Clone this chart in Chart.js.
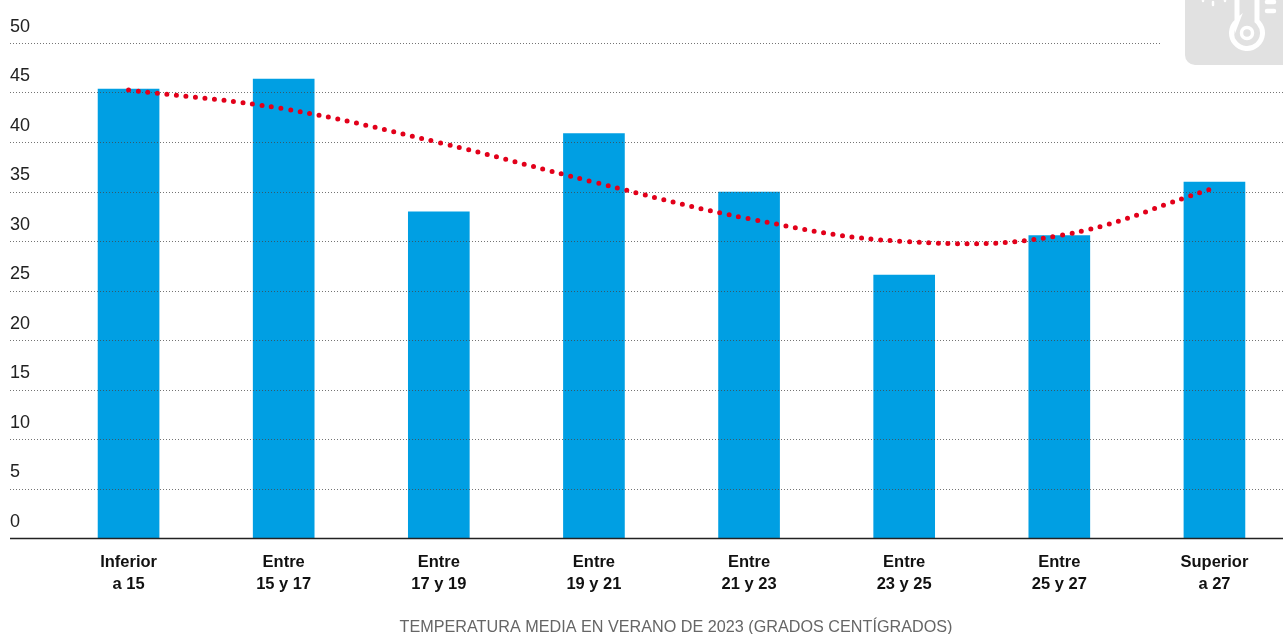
<!DOCTYPE html>
<html>
<head>
<meta charset="utf-8">
<style>
  html, body { margin: 0; padding: 0; background: #fff; overflow: hidden; }
  canvas { display: block; }
</style>
<script src="https://cdn.jsdelivr.net/npm/chart.js@4/dist/chart.umd.js"></script>
</head>
<body>
<canvas id="chart" width="1292" height="634"></canvas>
<script>
const categories = [
  ['Inferior', 'a 15'],
  ['Entre', '15 y 17'],
  ['Entre', '17 y 19'],
  ['Entre', '19 y 21'],
  ['Entre', '21 y 23'],
  ['Entre', '23 y 25'],
  ['Entre', '25 y 27'],
  ['Superior', 'a 27']
];
const barValues = [45.4, 46.4, 33, 40.9, 35, 26.6, 30.6, 36];
const trendValues = [45.3, 43.4, 40, 36, 32.3, 30, 30.6, 35.4];
const gridValues = [5, 10, 15, 20, 25, 30, 35, 40, 45, 50];
const xTitle = 'TEMPERATURA MEDIA EN VERANO DE 2023 (GRADOS CENTÍGRADOS)';

const fontName = '"Liberation Sans", Arial, sans-serif';

// dotted grid has to sit over the bars but under the red line, and run to the left edge
const gridPlugin = {
  id: 'dottedGrid',
  beforeDatasetDraw(chart, args) {
    if (args.meta.type !== 'line') return;
    const ctx = chart.ctx;
    const y = chart.scales.y;
    ctx.save();
    ctx.strokeStyle = 'rgba(70,70,70,0.75)';
    ctx.lineWidth = 1;
    ctx.setLineDash([1, 2]);
    gridValues.forEach((v) => {
      const py = Math.floor(y.getPixelForValue(v)) + 0.5;
      ctx.beginPath();
      ctx.moveTo(10, py);
      ctx.lineTo(v === 50 ? 1161 : 1292, py);
      ctx.stroke();
    });
    ctx.restore();
  },
  afterDraw(chart) {
    const ctx = chart.ctx;
    const py = chart.scales.y.getPixelForValue(0);
    ctx.save();
    ctx.strokeStyle = '#222';
    ctx.lineWidth = 1.5;
    ctx.beginPath();
    ctx.moveTo(10, py);
    ctx.lineTo(1292, py);
    ctx.stroke();
    ctx.fillStyle = '#666';
    ctx.font = '16.2px ' + fontName;
    ctx.textAlign = 'center';
    ctx.textBaseline = 'middle';
    ctx.fillText(xTitle, 676, 628);
    drawIcon(ctx);
    ctx.restore();
  }
};

function drawIcon(ctx) {
  ctx.fillStyle = '#e1e1e1';
  ctx.beginPath();
  ctx.roundRect(1185, -20, 120, 85, 10);
  ctx.fill();
  ctx.strokeStyle = '#fff';
  ctx.lineCap = 'round';
  ctx.lineWidth = 5;
  // tube and bulb
  ctx.beginPath();
  ctx.moveTo(1237, -5);
  ctx.lineTo(1237, 21.2);
  ctx.arc(1247, 33, 15.5, -2.27, -0.87, true);
  ctx.lineTo(1257, -5);
  ctx.stroke();
  ctx.lineWidth = 3.5;
  ctx.beginPath();
  ctx.arc(1247, 33, 5.5, 0, 2 * Math.PI);
  ctx.stroke();
  // scale marks
  ctx.lineWidth = 4.5;
  ctx.beginPath();
  ctx.moveTo(1267, 2);
  ctx.lineTo(1274, 2);
  ctx.moveTo(1267, 11);
  ctx.lineTo(1274, 11);
  ctx.stroke();
  // frost dots
  ctx.lineWidth = 2.5;
  ctx.beginPath();
  ctx.moveTo(1203, -2);
  ctx.lineTo(1203, 1);
  ctx.moveTo(1213, 2);
  ctx.lineTo(1213, 5);
  ctx.moveTo(1225, -2);
  ctx.lineTo(1225, 1);
  ctx.stroke();
}

new Chart(document.getElementById('chart').getContext('2d'), {
  data: {
    labels: categories,
    datasets: [
      {
        type: 'line',
        data: trendValues,
        order: 1,
        borderColor: '#e2001a',
        borderWidth: 5,
        borderCapStyle: 'round',
        borderDash: [0, 9.6],
        tension: 0.4,
        pointRadius: 0,
        fill: false
      },
      {
        type: 'bar',
        data: barValues,
        order: 2,
        backgroundColor: '#009fe3',
        barThickness: 61,
        borderWidth: 0
      }
    ]
  },
  options: {
    responsive: false,
    animation: false,
    layout: { padding: { left: 10, right: 0, top: 43.5, bottom: 0 } },
    plugins: {
      legend: { display: false },
      title: { display: false },
      tooltip: { enabled: false }
    },
    scales: {
      x: {
        grid: { display: false },
        border: { display: false },
        ticks: {
          color: '#111',
          padding: 5,
          maxRotation: 0,
          autoSkip: false,
          font: { family: fontName, size: 16.5, weight: 'bold', lineHeight: 1.34 }
        },
        afterFit: (scale) => { scale.height = 95.5; }
      },
      y: {
        min: 0,
        max: 50,
        grid: { display: false },
        border: { display: false },
        afterFit: (scale) => { scale.width = 41; },
        ticks: {
          stepSize: 5,
          color: '#222',
          crossAlign: 'far',
          labelOffset: -16.5,
          padding: 0,
          font: { family: fontName, size: 18 }
        }
      }
    }
  },
  plugins: [gridPlugin]
});
</script>
</body>
</html>
